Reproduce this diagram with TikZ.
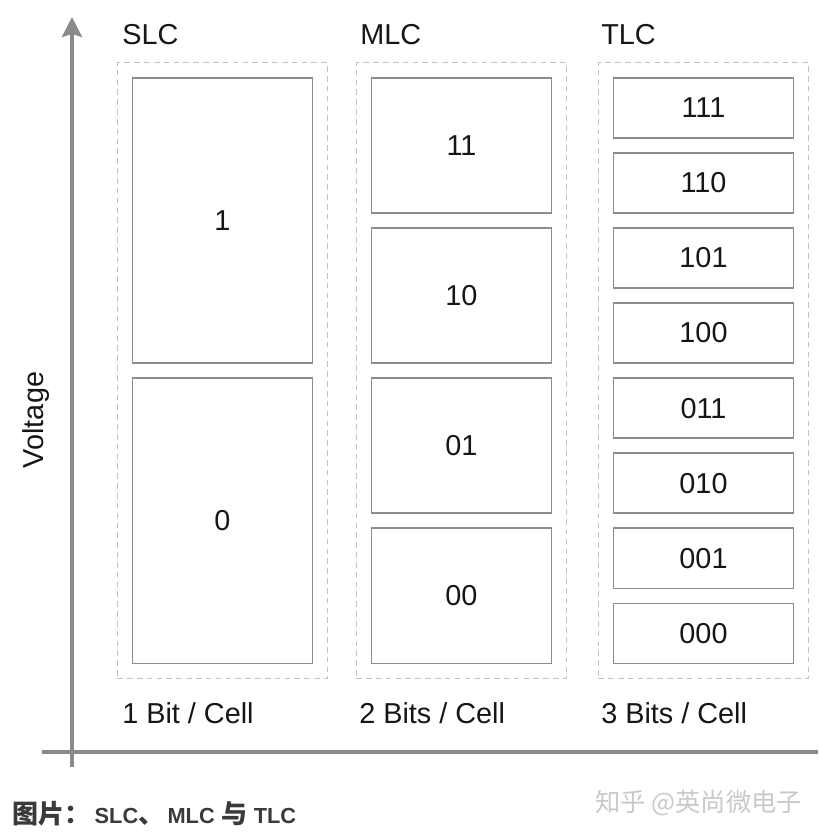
\documentclass[tikz,border=0pt]{standalone}
\usepackage{fontspec}
\setmainfont{Liberation Sans}
\newfontfamily\cjk{Noto Sans CJK SC}
\usetikzlibrary{arrows.meta,fit,positioning}
\definecolor{axisgray}{HTML}{8A8A8A}
\definecolor{cellgray}{HTML}{8C8C8C}
\definecolor{groupgray}{HTML}{C2C2C2}
\definecolor{ink}{HTML}{161616}
\definecolor{capgray}{HTML}{3A3A3A}
\definecolor{markgray}{HTML}{C9C9C9}
\newcommand\capcjk[1]{{\cjk\fontsize{18.5}{20}\selectfont #1}}

\begin{document}
\begin{tikzpicture}[
  x=0.025cm,y=-0.025cm,
  font=\fontsize{20.5}{24}\selectfont,
  cell/.style={draw=cellgray,line width=.9pt,minimum width=4.5cm,inner sep=0pt,outer sep=0pt,text=ink},
  slccell/.style={cell,minimum height=7.125cm},
  mlccell/.style={cell,minimum height=3.375cm},
  tlccell/.style={cell,minimum height=1.5cm},
  group/.style={draw=groupgray,dash pattern=on 4pt off 3pt,line width=.75pt,inner sep=.38cm},
  title/.style={anchor=base west,text=ink,inner sep=0pt},
  axis/.style={draw=axisgray,line width=2.6pt}
]
  \useasboundingbox (0,0) rectangle (818,837);

  % axes
  \coordinate (ytop) at (72,17);
  \coordinate (ybot) at (72,767);
  \coordinate (xleft) at (42,752);
  \coordinate (xright) at (818,752);
  \draw[axis,-{Stealth[length=.5cm,width=.5cm,inset=.08cm]}] (ybot) -- (ytop);
  \draw[axis] (xleft) -- (xright);
  \node[rotate=90,text=ink] (volt) at (36,420) {Voltage};

  % SLC
  \node[slccell,anchor=north] (slc1) at (222.5,78) {1};
  \node[slccell,below=.375cm of slc1] (slc0) {0};

  % MLC
  \node[mlccell,anchor=north] (mlc11) at (461.5,78) {11};
  \node[mlccell,below=.375cm of mlc11] (mlc10) {10};
  \node[mlccell,below=.375cm of mlc10] (mlc01) {01};
  \node[mlccell,below=.375cm of mlc01] (mlc00) {00};

  % TLC
  \node[tlccell,anchor=north] (tlc111) at (703.5,78) {111};
  \foreach \bits/\prev in {110/111,101/110,100/101,011/100,010/011,001/010,000/001}
    \node[tlccell,below=.375cm of tlc\prev] (tlc\bits) {\bits};

  \node[group,fit=(slc1)(slc0)] (slcgroup) {};
  \node[group,fit=(mlc11)(mlc00)] (mlcgroup) {};
  \node[group,fit=(tlc111)(tlc000)] (tlcgroup) {};

  \node[title] (slctitle) at (122,44) {SLC};
  \node[title] (mlctitle) at (360,44) {MLC};
  \node[title] (tlctitle) at (601,44) {TLC};

  \node[title] (slcbits) at (122,723) {1 Bit / Cell};
  \node[title] (mlcbits) at (359,723) {2 Bits / Cell};
  \node[title] (tlcbits) at (601,723) {3 Bits / Cell};

  % caption and watermark
  \node[anchor=base west,inner sep=0pt,text=capgray,font=\bfseries\fontsize{15.5}{18}\selectfont] (caption) at (12,823)
    {\capcjk{图片：}\hspace{.2em}SLC\capcjk{、}\hspace{.15em}MLC\hspace{.3em}\capcjk{与}\hspace{.3em}TLC};
  \node[anchor=west,inner sep=0pt,text=markgray,font=\cjk\fontsize{18}{20}\selectfont] (mark) at (595,803) {知乎 @英尚微电子};
\end{tikzpicture}
\end{document}
